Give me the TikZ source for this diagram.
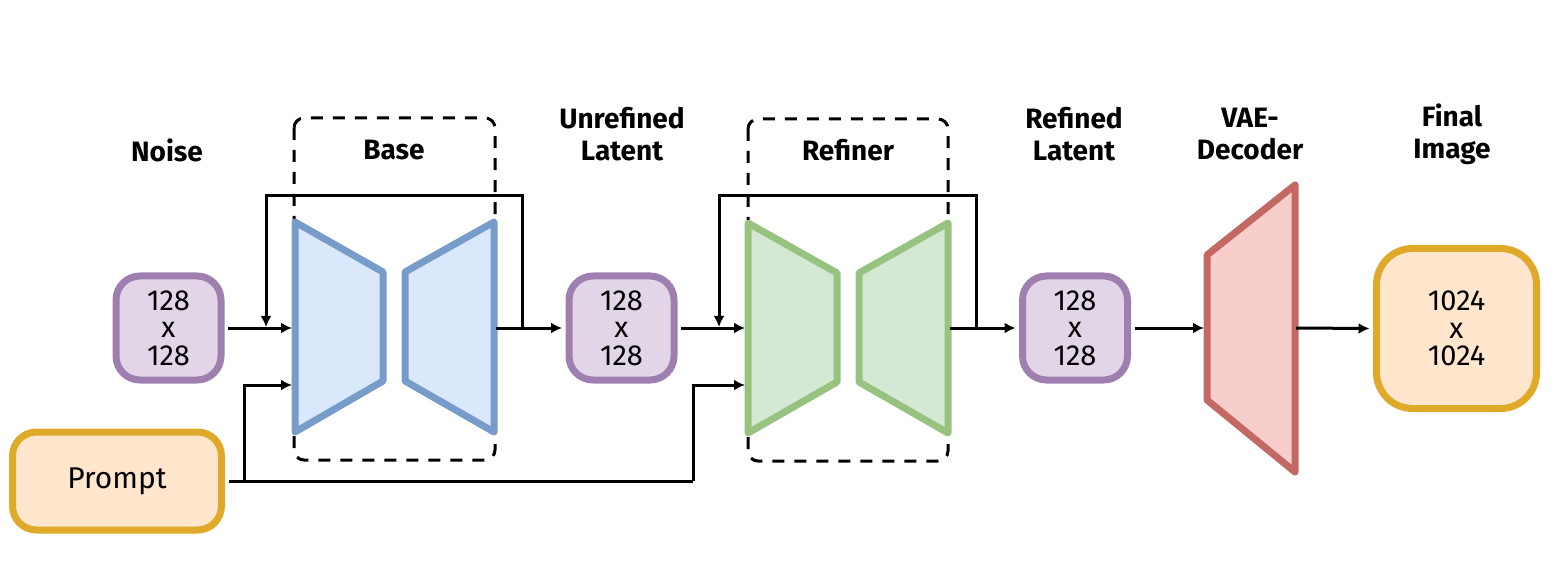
\documentclass[tikz,border=0pt]{standalone}
\usepackage{fontspec}
\setmainfont{Fira Sans}
\usetikzlibrary{arrows.meta}
\definecolor{purpleF}{HTML}{E1D5E7}
\definecolor{purpleS}{HTML}{9E7FB0}
\definecolor{orangeF}{HTML}{FFE6CC}
\definecolor{goldS}{HTML}{DFA92A}
\definecolor{blueF}{HTML}{DAE8FC}
\definecolor{blueS}{HTML}{789CC9}
\definecolor{greenF}{HTML}{D5E8D4}
\definecolor{greenS}{HTML}{97C280}
\definecolor{redF}{HTML}{F8CECC}
\definecolor{redS}{HTML}{C36862}
\begin{document}
\begin{tikzpicture}[x=0.5pt,y=-0.5pt,
  lbl/.style={font=\fontsize{14}{16}\selectfont\bfseries, align=center, inner sep=0pt},
  dimbox/.style={draw=purpleS, fill=purpleF, line width=3.5pt, rounded corners=12pt,
    minimum width=52.5pt, minimum height=52pt, inner sep=0pt, align=center,
    font=\fontsize{14.5}{13.75}\selectfont},
  conn/.style={line width=1.5pt, -{Latex[length=5.5pt,width=5.5pt]}},
  wire/.style={line width=1.5pt},
  dashbox/.style={draw, line width=1.5pt, dash pattern=on 6pt off 5pt, rounded corners=5pt},
  unet/.style={line width=3.5pt, line join=round}]

\useasboundingbox (0,0) rectangle (1566,566);

% labels
\node[lbl] (lnoise) at (167,150) {Noise};
\node[lbl] (lbase) at (394,150) {Base};
\node[lbl] (lunref) at (622,134) {Unrefined\\Latent};
\node[lbl] (lrefiner) at (848,150) {Refiner};
\node[lbl] (lref) at (1074,134) {Refined\\Latent};
\node[lbl] (lvae) at (1250,134) {VAE-\\Decoder};
\node[lbl] (lfinal) at (1452,134) {Final\\Image};

% dashed group boxes
\draw[dashbox] (294,118) rectangle (495,460);
\draw[dashbox] (748,119) rectangle (948,461);

% data boxes
\node[dimbox] (noise) at (168.5,328) {128\\x\\128};
\node[dimbox] (unref) at (621.5,328) {128\\x\\128};
\node[dimbox] (refined) at (1075,328) {128\\x\\128};
\node[draw=goldS, fill=orangeF, line width=3.5pt, rounded corners=12pt,
  minimum width=104.5pt, minimum height=49pt, inner sep=0pt,
  font=\fontsize{15}{15}\selectfont] (prompt) at (117,481) {Prompt};
\node[draw=goldS, fill=orangeF, line width=3.5pt, rounded corners=18pt,
  minimum width=80pt, minimum height=80pt, inner sep=0pt, align=center,
  font=\fontsize{14.5}{13.75}\selectfont] (final) at (1456.5,328.5) {1024\\x\\1024};

% base U-Net
\draw[unet, draw=blueS, fill=blueF] (295,222) -- (383,272) -- (383,381) -- (295,432) -- cycle;
\draw[unet, draw=blueS, fill=blueF] (405,272) -- (494,222) -- (494,432) -- (405,381) -- cycle;
% refiner U-Net
\draw[unet, draw=greenS, fill=greenF] (748,223) -- (837,273) -- (837,382) -- (748,433) -- cycle;
\draw[unet, draw=greenS, fill=greenF] (859,273) -- (948,223) -- (948,433) -- (859,382) -- cycle;
% VAE decoder
\draw[unet, draw=redS, fill=redF] (1207,255) -- (1295,185) -- (1295,472) -- (1207,400) -- cycle;

% connection points
\coordinate (baseIn) at (292,328);
\coordinate (baseCond) at (292,385);
\coordinate (baseOut) at (496,328);
\coordinate (baseJ) at (522,328);
\coordinate (baseTop) at (522,196);
\coordinate (baseFbT) at (266,196);
\coordinate (baseFbE) at (266,327);
\coordinate (refIn) at (745,328);
\coordinate (refCond) at (745,385);
\coordinate (refOut) at (950,328);
\coordinate (refJ) at (976,328);
\coordinate (refTop) at (976,196);
\coordinate (refFbT) at (719,196);
\coordinate (refFbE) at (719,327);
\coordinate (vaeIn) at (1204,328);
\coordinate (vaeOut) at (1296,328);
\coordinate (pJ) at (244,481);
\coordinate (pJup) at (244,385);
\coordinate (pEnd) at (693,481);
\coordinate (pEndUp) at (693,385);

% connectors
\draw[conn] ([xshift=1.75pt]noise.east) -- (baseIn);
\draw[conn] (baseJ) -- (baseTop) -- (baseFbT) -- (baseFbE);
\draw[conn] (baseOut) -- ([xshift=-1.75pt]unref.west);
\draw[wire] ([xshift=1.75pt]prompt.east) -- (pEnd);
\draw[conn] (pJ) -- (pJup) -- (baseCond);
\draw[conn] (pEnd) -- (pEndUp) -- (refCond);
\draw[conn] ([xshift=1.75pt]unref.east) -- (refIn);
\draw[conn] (refJ) -- (refTop) -- (refFbT) -- (refFbE);
\draw[conn] (refOut) -- ([xshift=-1.75pt]refined.west);
\draw[conn] ([xshift=1.75pt]refined.east) -- (vaeIn);
\draw[conn] (vaeOut) -- ([xshift=-1.75pt]final.west);
\end{tikzpicture}
\end{document}
